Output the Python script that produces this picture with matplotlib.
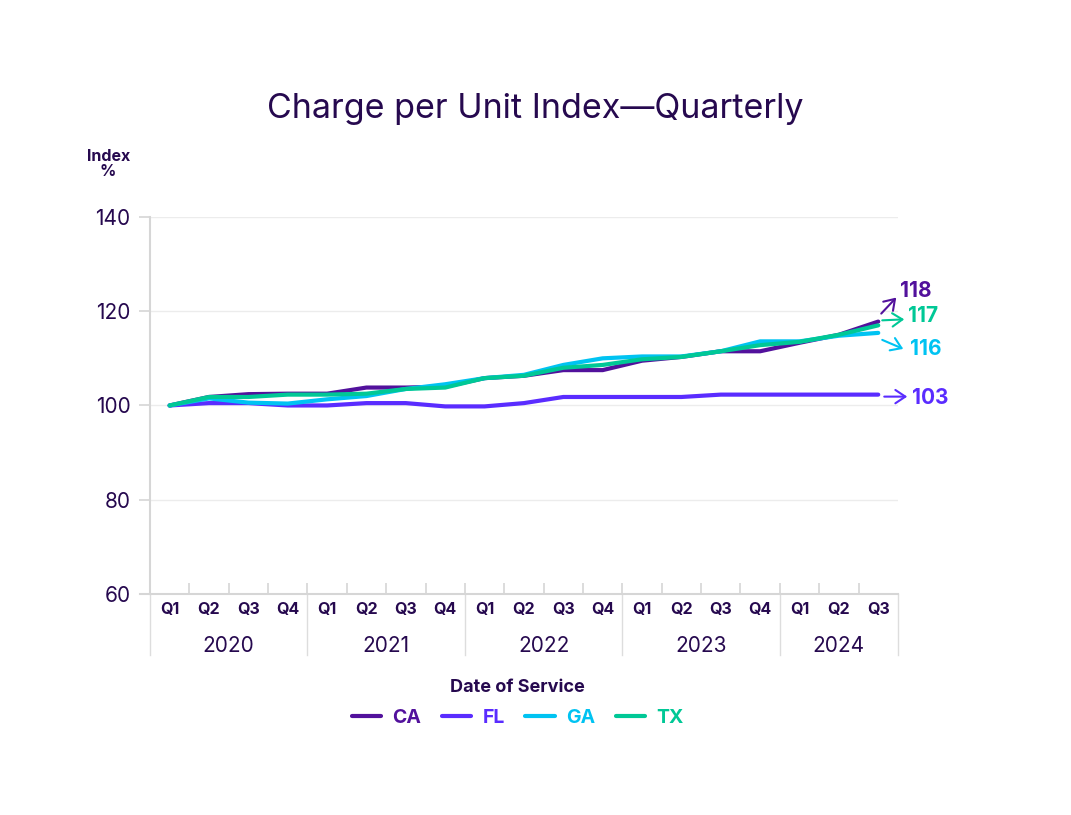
import matplotlib as mpl
mpl.use('Agg')
import matplotlib.pyplot as plt
from matplotlib.transforms import offset_copy, blended_transform_factory
from matplotlib.lines import Line2D

# data
quarters = ['Q1', 'Q2', 'Q3', 'Q4'] * 4 + ['Q1', 'Q2', 'Q3']
years    = ['2020', '2021', '2022', '2023', '2024']
ca = [100, 101.8, 102.4, 102.5, 102.5, 103.8, 103.8, 104.0, 105.8, 106.3, 107.5, 107.5, 109.5, 110.3, 111.5, 111.5, 113.3, 115.0, 117.8]
fl = [100, 100.5, 100.5, 100.0, 100.0, 100.5, 100.5, 99.8, 99.8, 100.5, 101.8, 101.8, 101.8, 101.8, 102.3, 102.3, 102.3, 102.3, 102.3]
ga = [100, 101.5, 100.6, 100.4, 101.3, 102.0, 103.5, 104.5, 105.8, 106.5, 108.6, 110.0, 110.4, 110.4, 111.5, 113.6, 113.6, 114.8, 115.4]
tx = [100, 101.8, 101.8, 102.3, 102.3, 102.5, 103.5, 103.8, 105.8, 106.3, 108.0, 108.6, 109.8, 110.3, 111.5, 112.8, 113.5, 115.0, 117.0]
end_labels = ['118', '103', '116', '117']
names  = ['CA', 'FL', 'GA', 'TX']
series = [ca, fl, ga, tx]
colors = ['#52119c', '#5a2cff', '#00c3f2', '#00c896']
# pixel offsets from line end: arrow tail, arrow head, label
offs = [((3, 8), (18, 24), (22, 31)),
        ((6, -2), (29, -2), (34, -3)),
        ((4, -7), (25, -16), (32, -16)),
        ((4, 5), (26, 6), (30, 9))]

dark = '#26094f'
grid = '#ececec'
plt.rcParams['font.family'] = ['Inter', 'DejaVu Sans']

fig = plt.figure(figsize=(10.71, 8.15), dpi=100)
ax = fig.add_axes([0.140, 0.2712, 0.6984, 0.4626])

x = list(range(len(quarters)))
for vals, c, nm in zip(series, colors, names):
    ax.plot(x, vals, color=c, lw=3, solid_joinstyle='round', solid_capstyle='round', label=nm, zorder=3)

ax.set_xlim(-0.5, len(quarters) - 0.5)
ax.set_ylim(60, 140)
ax.set_yticks([60, 80, 100, 120, 140])
ax.tick_params(axis='y', labelsize=15, labelcolor=dark, length=8, color='#d6d6d6', width=1.2, pad=6)
for yv in [80, 100, 120, 140]:
    ax.axhline(yv, color=grid, lw=1, zorder=0)
ax.set_xticks([i - 0.5 for i in range(1, len(quarters))])
ax.set_xticklabels([])
ax.tick_params(axis='x', direction='in', length=8, color='#d6d6d6', width=1.2)
for s in ['top', 'right']:
    ax.spines[s].set_visible(False)
ax.spines['left'].set_color('#d6d6d6')
ax.spines['left'].set_linewidth(1.5)
ax.spines['bottom'].set_color('#d6d6d6')
ax.spines['bottom'].set_linewidth(1.5)
ax.spines['bottom'].set_bounds(-0.75, len(quarters) - 0.5)

# category labels
tr = blended_transform_factory(ax.transData, ax.transAxes)
for i, q in enumerate(quarters):
    ax.text(i, -0.042, q, transform=tr, ha='center', va='center', fontsize=11.5,
            fontweight='bold', color=dark)
for k, yr in enumerate(years):
    lo = 4 * k - 0.5
    hi = min(4 * k + 3.5, len(quarters) - 0.5)
    ax.text((lo + hi) / 2, -0.139, yr, transform=tr, ha='center', va='center',
            fontsize=15, color=dark)
for b in [-0.5, 3.5, 7.5, 11.5, 15.5, len(quarters) - 0.5]:
    ax.plot([b, b], [0, -0.163], transform=tr, color='#dddddd', lw=1, clip_on=False)

# end arrows and labels
last = len(quarters) - 1
for vals, c, lab, (tail, head, txt) in zip(series, colors, end_labels, offs):
    ax.annotate('', xy=(last, vals[-1]), xytext=(last, vals[-1]),
                xycoords=offset_copy(ax.transData, fig=fig, x=head[0], y=head[1], units='dots'),
                textcoords=offset_copy(ax.transData, fig=fig, x=tail[0], y=tail[1], units='dots'),
                arrowprops=dict(arrowstyle='->,head_length=0.6,head_width=0.4', color=c, lw=1.5,
                                shrinkA=0, shrinkB=0, mutation_scale=12), annotation_clip=False)
    ax.annotate(lab, xy=(last, vals[-1]), xytext=txt, textcoords='offset pixels',
                ha='left', va='center', fontsize=15, fontweight='bold', color=c, annotation_clip=False)

fig.text(0.5, 0.866, 'Charge per Unit Index\u2014Quarterly', ha='center', va='center',
         fontsize=24.5, color=dark, fontweight='normal')
fig.text(0.101, 0.799, 'Index\n%', ha='center', va='center', fontsize=11.5, fontweight='bold',
         color=dark, linespacing=1.0)
fig.text(0.4835, 0.157, 'Date of Service', ha='center', va='center', fontsize=13,
         fontweight='bold', color=dark)

handles = [Line2D([], [], color=c, lw=3, solid_capstyle='round') for c in colors]
leg = fig.legend(handles, names, loc='center', bbox_to_anchor=(0.4835, 0.119), ncol=4,
                 frameon=False, handlelength=1.5, handletextpad=0.6, columnspacing=1.05,
                 prop={'size': 14, 'weight': 'bold'}, labelcolor=colors)

fig.savefig('out.png', dpi=100, facecolor='white')
